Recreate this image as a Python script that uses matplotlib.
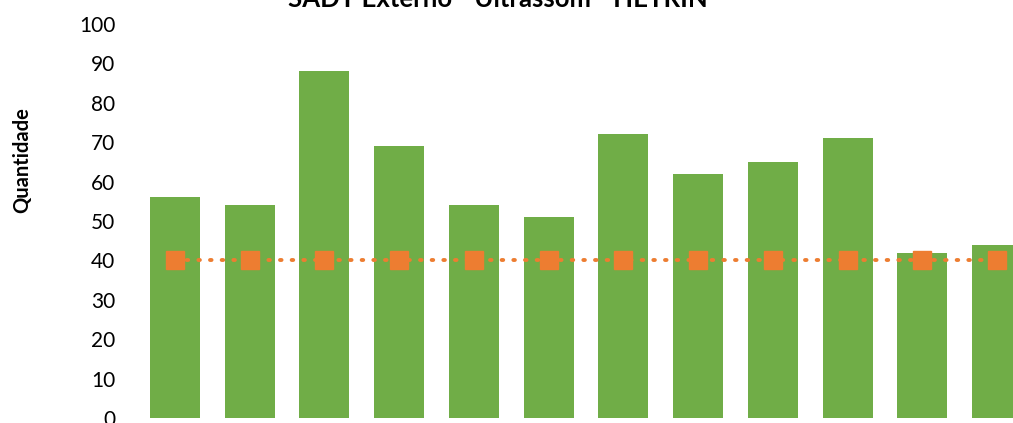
import matplotlib.pyplot as plt

plt.rcParams['font.family'] = ['Lato', 'DejaVu Sans']

# Data
categories = ['1', '2', '3', '4', '5', '6', '7', '8', '9', '10', '11', '12']
quantidade = [56, 54, 88, 69, 54, 51, 72, 62, 65, 71, 42, 44]
meta = [40] * len(categories)
yticks = list(range(0, 101, 10))

fig = plt.figure(figsize=(10.13, 4.23), dpi=100)
ax = fig.add_axes([0.1358, 0.0118, 0.8855, 0.9314])

x = range(len(categories))
ax.bar(x, quantidade, width=0.67, color='#70AD47', zorder=2)
ax.plot(x, meta, color='#ED7D31', linestyle=(0, (0.4, 2.6)), linewidth=2.8,
        dash_capstyle='round', marker='s', markersize=12.5, zorder=3)

ax.set_xlim(-0.5, len(categories) - 0.5)
ax.set_ylim(0, 100)
ax.set_yticks(yticks)
ax.set_xticks([])
ax.tick_params(axis='y', length=0, pad=16, labelsize=15)
for s in ax.spines.values():
    s.set_visible(False)

ax.set_ylabel('Quantidade', fontsize=14.5, fontweight='bold')
ax.yaxis.set_label_coords(-0.117, 0.655)

fig.text(0.491, 1 - 7 / 423, 'SADT Externo - Ultrassom - HETRIN',
         ha='center', va='baseline', fontsize=18.5, fontweight='bold')

fig.savefig('out.png', dpi=100)
